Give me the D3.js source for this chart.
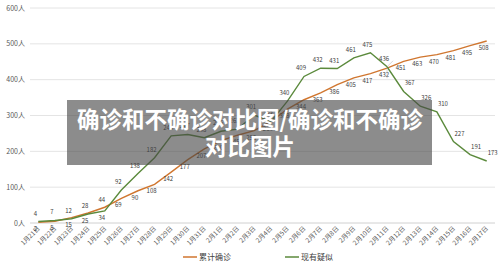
<!DOCTYPE html>
<html>
<head>
<meta charset="utf-8">
<style>
  body { margin: 0; background: #fff; }
  svg { display: block; font-family: "Noto Sans CJK SC", "Noto Sans", sans-serif; }
  .grid line { stroke: #e4e4e4; stroke-width: 1px; }
  .ytick { font-size: 7px; fill: #595959; }
  .xtick { font-size: 6.5px; fill: #595959; }
  .dlabel { font-size: 6px; fill: #404040; }
  .legend { font-size: 8px; fill: #404040; }
</style>
<script src="https://d3js.org/d3.v7.min.js"></script>
</head>
<body>
<svg width="500" height="268"></svg>
<script>
const dates = ['1月21日','1月22日','1月23日','1月24日','1月25日','1月26日','1月27日','1月28日','1月29日','1月30日',
  '1月31日','2月1日','2月2日','2月3日','2月4日','2月5日','2月6日','2月7日','2月8日','2月9日','2月10日',
  '2月11日','2月12日','2月13日','2月14日','2月15日','2月16日','2月17日'];
const confirmed = [2, 5, 15, 28, 44, 69, 90, 108, 142, 177, 207, 230, 245, 258, 283, 318, 344, 363, 386, 405, 417,
  432, 451, 463, 470, 481, 495, 508];
const suspected = [4, 7, 12, 25, 34, 92, 138, 182, 243, 247, 238, 256, 262, 301, 283, 340, 409, 432, 431, 461, 475,
  436, 367, 326, 310, 227, 191, 173];
const yTicks = [0, 100, 200, 300, 400, 500, 600];
const seriesNames = ['累计确诊', '现有疑似'];

const svg = d3.select('svg');
const x = d3.scalePoint().domain(dates).range([30, 495]).padding(0.5);
const y = d3.scaleLinear().domain([0, 600]).range([223, 8]);
const orange = '#d0762f', green = '#5b8a3c';

// grid
svg.append('g').attr('class', 'grid').selectAll('line')
  .data(yTicks).enter().append('line')
  .attr('x1', 30).attr('x2', 495)
  .attr('y1', d => y(d)).attr('y2', d => y(d))
  .style('stroke', d => d === 0 ? '#d0d0d0' : null);

svg.selectAll('.ytick').data(yTicks).enter().append('text')
  .attr('class', 'ytick')
  .attr('x', 25).attr('y', d => y(d) + 2.5)
  .attr('text-anchor', 'end')
  .text(d => d + '人');

svg.selectAll('.xtick').data(dates).enter().append('text')
  .attr('class', 'xtick')
  .attr('transform', d => `translate(${x(d) + 2},${y(0) + 6}) rotate(-45)`)
  .attr('text-anchor', 'end')
  .text(d => d);

const line = d3.line().x((d, i) => x(dates[i])).y(d => y(d));

svg.append('path').datum(confirmed)
  .attr('fill', 'none').attr('stroke', orange).attr('stroke-width', 1.4)
  .attr('d', line);
svg.append('path').datum(suspected)
  .attr('fill', 'none').attr('stroke', green).attr('stroke-width', 1.4)
  .attr('d', line);

// data labels
svg.selectAll('.lc').data(confirmed).enter().append('text')
  .attr('class', 'dlabel')
  .attr('x', (d, i) => x(dates[i]) - 3)
  .attr('y', (d, i) => (i === 3 || i === 4) ? y(d) - 5 : y(d) + 9)
  .attr('text-anchor', 'middle')
  .text(d => d);
svg.selectAll('.ls').data(suspected).enter().append('text')
  .attr('class', 'dlabel')
  .attr('x', (d, i) => x(dates[i]) + (i >= 22 ? 6 : -3))
  .attr('y', (d, i) => (i === 3 || i === 4) ? y(d) + 9 : y(d) - 6)
  .attr('text-anchor', 'middle')
  .text(d => d);

// leader lines at the crossing
svg.append('line').attr('x1', x('2月11日')).attr('x2', x('2月11日'))
  .attr('y1', y(432)).attr('y2', y(432) + 10).attr('stroke', '#bbb').attr('stroke-width', 0.6);
svg.append('line').attr('x1', x('2月11日')).attr('x2', x('2月11日') + 6)
  .attr('y1', y(436)).attr('y2', y(436) - 6).attr('stroke', '#bbb').attr('stroke-width', 0.6);

// legend
const legend = svg.selectAll('.lg').data(seriesNames).enter().append('g')
  .attr('transform', (d, i) => `translate(${i === 0 ? 183 : 285},257)`);
legend.append('line').attr('x1', 0).attr('x2', 14).attr('y1', 0).attr('y2', 0)
  .attr('stroke', (d, i) => i === 0 ? orange : green).attr('stroke-width', 1.5);
legend.append('text').attr('class', 'legend').attr('x', 16).attr('y', 3).text(d => d);

// title overlay
svg.append('rect').attr('x', 67).attr('y', 100).attr('width', 365).attr('height', 65)
  .attr('fill', 'rgba(70,70,70,0.62)');
const title = svg.append('text').attr('text-anchor', 'middle')
  .attr('fill', '#fff').attr('font-weight', 'bold').attr('font-size', 22.5);
title.append('tspan').attr('x', 250).attr('y', 128).text('确诊和不确诊对比图/确诊和不确诊');
title.append('tspan').attr('x', 250).attr('y', 155).text('对比图片');
</script>
</body>
</html>
